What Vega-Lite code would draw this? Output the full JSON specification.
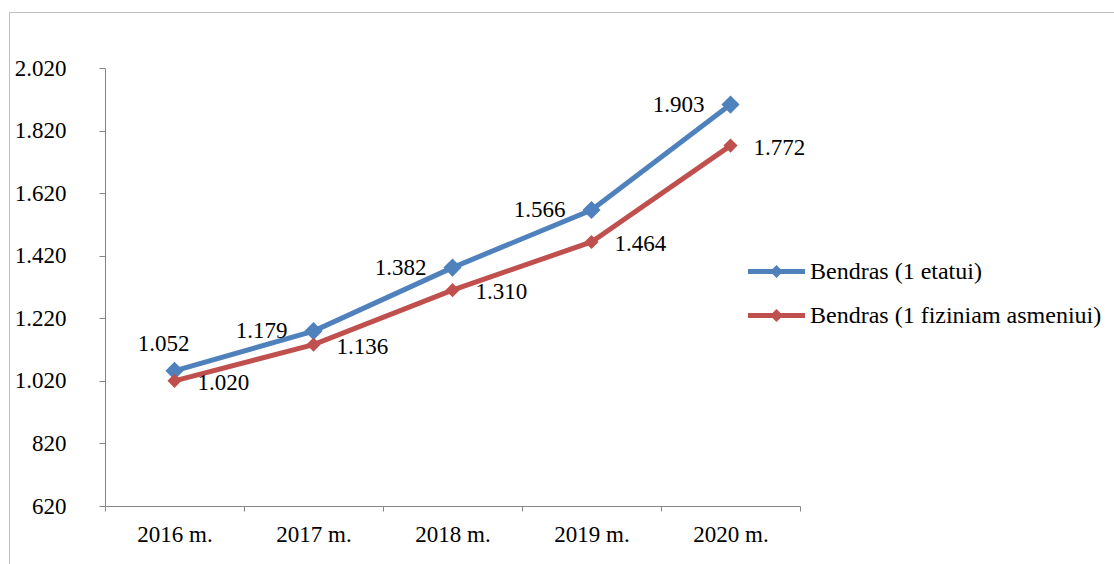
{
  "$schema": "https://vega.github.io/schema/vega-lite/v6.json",
  "width": 1110,
  "height": 560,
  "autosize": {"type": "none"},
  "padding": {"left": 9, "top": 12, "right": 0, "bottom": 0},
  "background": "white",
  "config": {
    "view": {"stroke": "#BFBFBF", "strokeWidth": 1},
    "font": "Liberation Serif",
    "locale": {"number": {"decimal": ",", "thousands": ".", "grouping": [3], "currency": ["", " €"]}}
  },
  "data": {
    "values": [
      {"year": "2016 m.", "series": "Bendras (1 etatui)", "value": 1052},
      {"year": "2017 m.", "series": "Bendras (1 etatui)", "value": 1179},
      {"year": "2018 m.", "series": "Bendras (1 etatui)", "value": 1382},
      {"year": "2019 m.", "series": "Bendras (1 etatui)", "value": 1566},
      {"year": "2020 m.", "series": "Bendras (1 etatui)", "value": 1903},
      {"year": "2016 m.", "series": "Bendras (1 fiziniam asmeniui)", "value": 1020},
      {"year": "2017 m.", "series": "Bendras (1 fiziniam asmeniui)", "value": 1136},
      {"year": "2018 m.", "series": "Bendras (1 fiziniam asmeniui)", "value": 1310},
      {"year": "2019 m.", "series": "Bendras (1 fiziniam asmeniui)", "value": 1464},
      {"year": "2020 m.", "series": "Bendras (1 fiziniam asmeniui)", "value": 1772}
    ]
  },
  "encoding": {
    "x": {
      "field": "year", "type": "nominal", "sort": null,
      "scale": {"type": "band", "paddingInner": 0, "paddingOuter": 0, "range": [96, 791]},
      "axis": {
        "title": null, "labelAngle": 0, "tickBand": "extent", "offset": -66,
        "domainColor": "#868686", "tickColor": "#868686", "tickSize": 5,
        "labelFontSize": 23, "labelColor": "black", "labelPadding": 12,
        "labelFont": "Liberation Serif"
      }
    },
    "y": {
      "field": "value", "type": "quantitative",
      "scale": {"domain": [620, 2020], "nice": false, "zero": false, "range": [494, 56]},
      "axis": {
        "title": null, "grid": false, "offset": -96, "values": [620, 820, 1020, 1220, 1420, 1620, 1820, 2020],
        "format": ",d", "domainColor": "#868686", "tickColor": "#868686", "tickSize": 6,
        "labelFontSize": 23, "labelColor": "black", "labelPadding": 33,
        "labelFont": "Liberation Serif"
      }
    },
    "color": {
      "field": "series", "type": "nominal",
      "scale": {"domain": ["Bendras (1 etatui)", "Bendras (1 fiziniam asmeniui)"], "range": ["#4F81BD", "#C0504D"]},
      "legend": {
        "title": null, "orient": "none", "legendX": 755.5, "legendY": 247.5,
        "padding": 0, "rowPadding": 20, "labelOffset": 21.5, "labelLimit": 0,
        "labelFontSize": 24, "labelColor": "black", "labelFont": "Liberation Serif",
        "symbolType": "M-4.75,-0.42 L4.75,-0.42 L4.75,0.42 L-4.75,0.42 Z M0,-1.08 L1.08,0 L0,1.08 L-1.08,0 Z",
        "symbolSize": 144, "symbolStrokeWidth": 0,
        "encode": {"symbols": {"update": {"fill": {"scale": "color", "field": "value"}, "opacity": {"value": 1}, "strokeWidth": {"value": 0}, "size": {"value": 144}}}}
      }
    }
  },
  "layer": [
    {
      "mark": {"type": "line", "strokeWidth": 5}
    },
    {
      "transform": [{"filter": "datum.series === 'Bendras (1 etatui)'"}],
      "mark": {"type": "point", "shape": "diamond", "filled": true, "opacity": 1, "size": 330}
    },
    {
      "transform": [{"filter": "datum.series === 'Bendras (1 fiziniam asmeniui)'"}],
      "mark": {"type": "point", "shape": "diamond", "filled": true, "opacity": 1, "size": 200}
    },
    {
      "transform": [{"filter": "datum.series === 'Bendras (1 etatui)' && datum.year !== '2016 m.'"}],
      "mark": {"type": "text", "align": "right", "baseline": "middle", "dx": -26, "fontSize": 23, "font": "Liberation Serif", "color": "black"},
      "encoding": {"text": {"field": "value", "type": "quantitative", "format": ",d"}, "color": {"value": "black"}}
    },
    {
      "transform": [{"filter": "datum.series === 'Bendras (1 etatui)' && datum.year === '2016 m.'"}],
      "mark": {"type": "text", "align": "center", "baseline": "middle", "dx": -11, "dy": -27, "fontSize": 23, "font": "Liberation Serif", "color": "black"},
      "encoding": {"text": {"field": "value", "type": "quantitative", "format": ",d"}, "color": {"value": "black"}}
    },
    {
      "transform": [{"filter": "datum.series === 'Bendras (1 fiziniam asmeniui)'"}],
      "mark": {"type": "text", "align": "left", "baseline": "middle", "dx": 23, "dy": 2, "fontSize": 23, "font": "Liberation Serif", "color": "black"},
      "encoding": {"text": {"field": "value", "type": "quantitative", "format": ",d"}, "color": {"value": "black"}}
    }
  ]
}
